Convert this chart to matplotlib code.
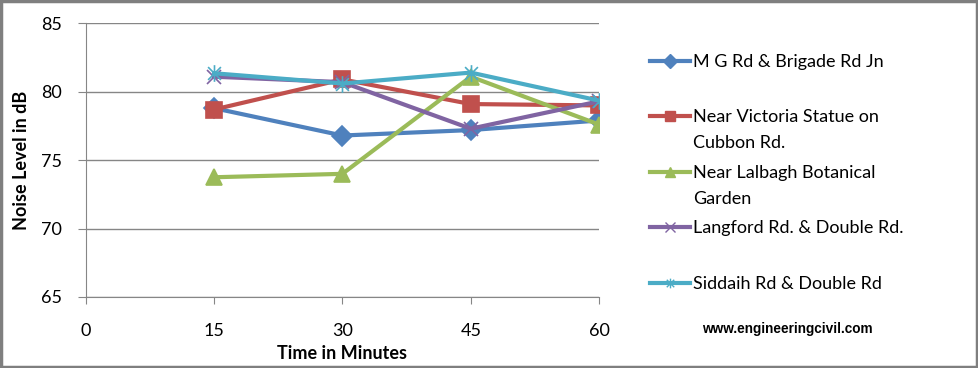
import matplotlib.pyplot as plt
from matplotlib.lines import Line2D
from matplotlib.patches import Rectangle
from matplotlib.path import Path

plt.rcParams['font.family'] = ['Lato', 'DejaVu Sans']

minutes = [15, 30, 45, 60]
mg_rd = [78.8, 76.8, 77.2, 77.9]
victoria = [78.7, 80.9, 79.1, 79.0]
lalbagh = [73.75, 74.0, 81.1, 77.6]
langford = [81.1, 80.7, 77.3, 79.3]
siddaih = [81.35, 80.6, 81.4, 79.35]

labels = ['M G Rd & Brigade Rd Jn', 'Near Victoria Statue on\nCubbon Rd.',
          'Near Lalbagh Botanical\nGarden', 'Langford Rd. & Double Rd.',
          'Siddaih Rd & Double Rd']
colors = ['#4F81BD', '#C0504D', '#9BBB59', '#8064A2', '#4BACC6']

# excel style star: x plus vertical bar
star = Path([(-1, -1), (1, 1), (-1, 1), (1, -1), (0, -1.3), (0, 1.3)],
            [Path.MOVETO, Path.LINETO, Path.MOVETO, Path.LINETO, Path.MOVETO, Path.LINETO])
markers = ['D', 's', '^', 'x', star]
msizes = [10, 11, 11, 10, 12]

fig = plt.figure(figsize=(9.79, 3.68), dpi=100)
ax = fig.add_axes([0.0875, 0.193, 0.5245, 0.7436])

series = [mg_rd, victoria, lalbagh, langford, siddaih]
for vals, c, m, ms in zip(series, colors, markers, msizes):
    ax.plot(minutes, vals, color=c, lw=3, marker=m, ms=ms, mec=c, mfc=c, mew=1.2)

ax.set_xlim(0, 60)
ax.set_ylim(65, 85)
ax.set_xticks([0, 15, 30, 45, 60])
ax.set_yticks([65, 70, 75, 80, 85])
ax.yaxis.grid(True, color='#868686', lw=1)
ax.set_axisbelow(True)
for s in ['top', 'right']:
    ax.spines[s].set_visible(False)
for s in ['left', 'bottom']:
    ax.spines[s].set_color('#868686')
ax.tick_params(axis='y', length=6, color='#868686', labelsize=13, pad=11)
ax.tick_params(axis='x', length=5, color='#868686', labelsize=13, pad=14)
ax.set_ylabel('Noise Level in dB', fontsize=13, fontweight='bold', labelpad=8)
ax.set_xlabel('Time in Minutes', fontsize=13, fontweight='bold', labelpad=4)

# legend drawn by hand so markers sit on first line of wrapped labels
W, H = 979, 368
rows = [61, 116, 172, 227, 283]
for y, lab, c, m in zip(rows, labels, colors, markers):
    fy = 1 - y / H
    fig.add_artist(Line2D([650 / W, 690 / W], [fy, fy], color=c, lw=3,
                          transform=fig.transFigure))
    fig.add_artist(Line2D([670 / W], [fy], color=c, marker=m, ms=7, mec=c, mfc=c,
                          mew=1, transform=fig.transFigure))
    fig.text(693 / W, fy + 7 / H, lab, fontsize=13, va='top', ha='left', linespacing=1.75)

fig.text(787 / W, 1 - 329 / H, 'www.engineeringcivil.com', fontsize=9.8,
         fontweight='bold', family='Liberation Sans', ha='center', va='center')

fig.add_artist(Rectangle((0.001, 0.002), 0.997, 0.995, transform=fig.transFigure,
                         fill=False, ec='#7f7f7f', lw=2.5))

fig.savefig('out.png', dpi=100)
